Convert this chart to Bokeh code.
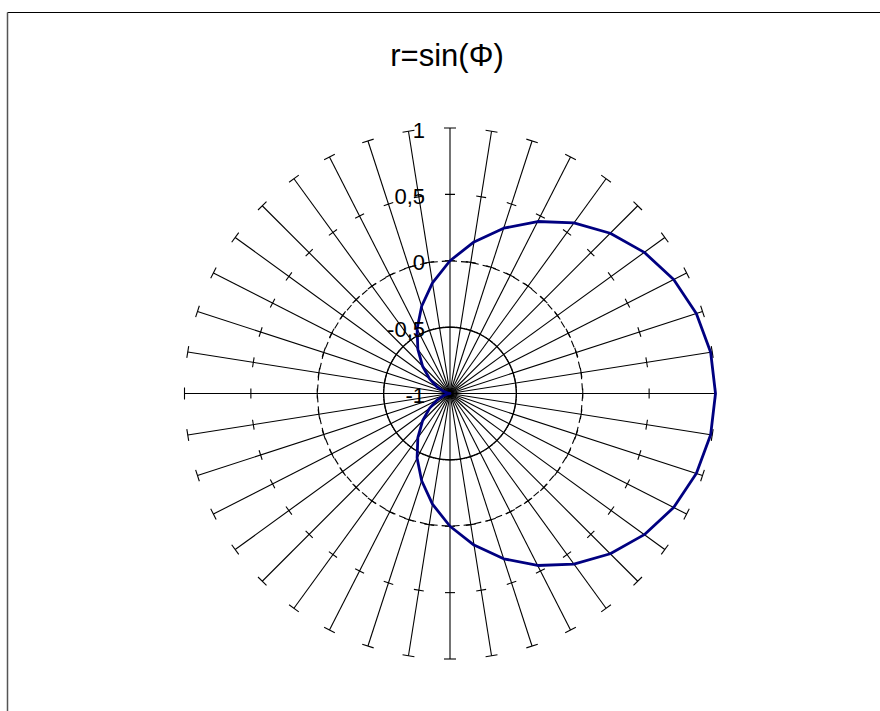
import math
from bokeh.plotting import figure
from bokeh.models import Range1d
from bokeh.core.properties import value
from bokeh.embed import file_html
from bokeh.resources import INLINE

# ---- data ----
PHI_DEG = [0, 9, 18, 27, 36, 45, 54, 63, 72, 81,
           90, 99, 108, 117, 126, 135, 144, 153, 162, 171,
           180, 189, 198, 207, 216, 225, 234, 243, 252, 261,
           270, 279, 288, 297, 306, 315, 324, 333, 342, 351]
R_VALUES = [0.000, 0.156, 0.309, 0.454, 0.588, 0.707, 0.809, 0.891, 0.951, 0.988,
            1.000, 0.988, 0.951, 0.891, 0.809, 0.707, 0.588, 0.454, 0.309, 0.156,
            0.000, -0.156, -0.309, -0.454, -0.588, -0.707, -0.809, -0.891, -0.951, -0.988,
            -1.000, -0.988, -0.951, -0.891, -0.809, -0.707, -0.588, -0.454, -0.309, -0.156]
RING_SOLID = -0.5
RING_DASHED = 0.0
AXIS_MIN = -1.0
AXIS_MAX = 1.0
TICK_VALUES = [-1.0, -0.5, 0.0, 0.5, 1.0]
TICK_LABELS = ["-1", "-0,5", "0", "0,5", "1"]
TITLE = "r=sin(\u03a6)"

# ---- layout ----
W, H = 880, 711
CX, CY = 449.5, 393.0          # centre in figure pixels (from top-left)
RADIUS = 265.5                 # pixels for full value range
TICK_HALF = 5.0

p = figure(width=W, height=H, output_backend="svg", toolbar_location=None,
           x_range=Range1d(-CX, W - CX), y_range=Range1d(-(H - CY), CY),
           min_border=0, outline_line_color=None)
p.axis.visible = False
p.grid.visible = False
p.background_fill_color = "white"
p.border_fill_color = "white"


def rad(v):
    return (v - AXIS_MIN) / (AXIS_MAX - AXIS_MIN) * RADIUS


def pol(v, deg):
    t = math.radians(deg)
    d = rad(v)
    return d * math.sin(t), d * math.cos(t)


# spokes
sx1, sy1 = [], []
for a in PHI_DEG:
    x, y = pol(AXIS_MAX, a)
    sx1.append(x)
    sy1.append(y)
p.segment(x0=[0] * len(PHI_DEG), y0=[0] * len(PHI_DEG), x1=sx1, y1=sy1,
          line_color="black", line_width=1.1)

# tick marks on every spoke
tx0, ty0, tx1, ty1 = [], [], [], []
for a in PHI_DEG:
    t = math.radians(a)
    nx, ny = math.cos(t), -math.sin(t)
    for tv in TICK_VALUES[1:]:
        x, y = pol(tv, a)
        h = TICK_HALF + (1.0 if tv == AXIS_MAX else 0.0)
        tx0.append(x - h * nx)
        ty0.append(y - h * ny)
        tx1.append(x + h * nx)
        ty1.append(y + h * ny)
p.segment(x0=tx0, y0=ty0, x1=tx1, y1=ty1, line_color="black", line_width=1.1)

# rings (constant series)
rs = [pol(RING_SOLID, a) for a in PHI_DEG]
p.line([q[0] for q in rs] + [rs[0][0]], [q[1] for q in rs] + [rs[0][1]],
       line_color="black", line_width=1.1)
rd = [pol(RING_DASHED, a) for a in PHI_DEG]
p.line([q[0] for q in rd] + [rd[0][0]], [q[1] for q in rd] + [rd[0][1]],
       line_color="black", line_width=1.1, line_dash="7 4")

# data series
pts = [pol(v, a) for v, a in zip(R_VALUES, PHI_DEG)]
p.line([q[0] for q in pts] + [pts[0][0]], [q[1] for q in pts] + [pts[0][1]],
       line_color="#000080", line_width=2.8, line_join="round")

# axis labels
p.text(x=[-25] * len(TICK_VALUES), y=[rad(v) - 2 for v in TICK_VALUES], text=TICK_LABELS,
       text_align="right", text_baseline="middle", text_font=value("Liberation Sans"),
       text_font_size="22px", text_color="black")

# title
p.text(x=[-3], y=[CY - 55], text=[TITLE], text_align="center", text_baseline="middle",
       text_font=value("Liberation Sans"), text_font_size="31px", text_color="black")

# chart-area border (top and left edges visible)
p.line([-CX + 7, W - CX], [CY - 12, CY - 12], line_color="black", line_width=1)
p.line([-CX + 7, -CX + 7], [CY - 12, -(H - CY)], line_color="#555555", line_width=1.5)

open("out.html", "w").write(file_html(p, INLINE))
